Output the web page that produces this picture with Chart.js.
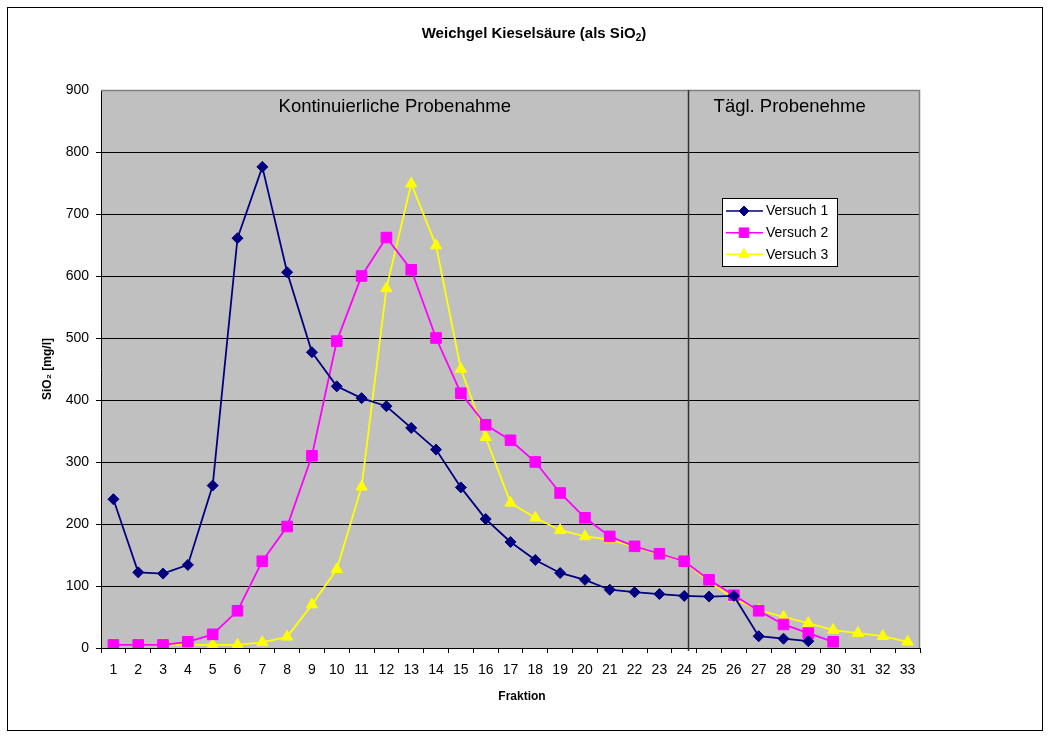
<!DOCTYPE html>
<html><head><meta charset="utf-8">
<script src="https://cdn.jsdelivr.net/npm/chart.js@4.4.0/dist/chart.umd.min.js"></script>
<style>html,body{margin:0;padding:0;background:#fff;}#wrap{width:1050px;height:739px;}</style>
</head><body><div id="wrap"><canvas id="c" width="1050" height="739"></canvas></div>
<script>
const categories = ['1','2','3','4','5','6','7','8','9','10','11','12','13','14','15','16','17','18','19','20','21','22','23','24','25','26','27','28','29','30','31','32','33'];
const versuch1 = [240,122,120,134,262,661,776,606,477,422,403,390,355,320,259,208,171,142,121,110,94,90,87,84,83,84,19,15,11,null,null,null,null];
const versuch2 = [5,5,5,10,22,60,140,196,310,495,600,662,610,500,411,360,335,300,250,210,180,164,152,140,110,85,60,38,24,10,null,null,null];
const versuch3 = [5,5,5,5,5,5,9,18,70,127,260,580,749,649,450,340,234,210,190,180,175,163,151,140,107,80,61,50,40,29,24,19,10];
const seriesNames = ['Versuch 1','Versuch 2','Versuch 3'];
const regionLabels = ['Kontinuierliche Probenahme','Tägl. Probenehme'];
const titleParts = ['Weichgel Kieselsäure (als SiO','2',')'];
const xTitle = 'Fraktion';
const separatorAt = 23.15; // between Fraktion 24 and 25 (category index)
const FONT = '"Liberation Sans", Arial, sans-serif';

const colors = ['#000080','#FF00FF','#FFFF00'];
const styles = ['rectRot','rect','triangle'];
const radii = [5.5,7.5,6.5];

const bgPlugin = {
  id:'bg',
  beforeDraw(chart){
    const {ctx, chartArea:a} = chart;
    ctx.save();
    ctx.fillStyle='#fff'; ctx.fillRect(0,0,chart.width,chart.height);
    ctx.strokeStyle='#000'; ctx.lineWidth=1;
    ctx.strokeRect(7.5,7.5,1035,723);
    ctx.fillStyle='#C0C0C0'; ctx.fillRect(a.left,a.top,a.right-a.left,a.bottom-a.top);
    // title with subscript
    ctx.fillStyle='#000'; ctx.textBaseline='alphabetic'; ctx.textAlign='left';
    const f1='bold 15px '+FONT, f2='bold 10px '+FONT;
    ctx.font=f1; const w0=ctx.measureText(titleParts[0]).width, w2=ctx.measureText(titleParts[2]).width;
    ctx.font=f2; const w1=ctx.measureText(titleParts[1]).width;
    let tx = 534 - (w0+w1+w2)/2; const ty=38;
    ctx.font=f1; ctx.fillText(titleParts[0],tx,ty); tx+=w0;
    ctx.font=f2; ctx.fillText(titleParts[1],tx,ty+3); tx+=w1;
    ctx.font=f1; ctx.fillText(titleParts[2],tx,ty);
    // x axis title
    ctx.font='bold 12px '+FONT; ctx.textAlign='center'; ctx.textBaseline='middle';
    ctx.fillText(xTitle, 522, 697);
    ctx.restore();
  },
  beforeDatasetsDraw(chart){
    const {ctx, chartArea:a, scales:{x}} = chart;
    ctx.save();
    ctx.strokeStyle='#808080'; ctx.lineWidth=1.5;
    ctx.beginPath();
    ctx.moveTo(a.left,a.top+0.5); ctx.lineTo(a.right-0.5,a.top+0.5); ctx.lineTo(a.right-0.5,a.bottom);
    ctx.stroke();
    const sx = Math.round(x.getPixelForValue(separatorAt))+0.5;
    ctx.strokeStyle='#333'; ctx.lineWidth=1.5;
    ctx.beginPath(); ctx.moveTo(sx,a.top); ctx.lineTo(sx,a.bottom+3); ctx.stroke();
    ctx.fillStyle='#000'; ctx.font='18.5px '+FONT; ctx.textAlign='center'; ctx.textBaseline='middle';
    ctx.fillText(regionLabels[0], (a.left+sx)/2, a.top+17);
    ctx.fillText(regionLabels[1], x.getPixelForValue(27.25), a.top+17);
    ctx.restore();
  },
  afterDraw(chart){
    const {ctx} = chart;
    ctx.save();
    const bx=722, by=198, bw=115, bh=68;
    ctx.fillStyle='#fff'; ctx.fillRect(bx,by,bw,bh);
    ctx.strokeStyle='#000'; ctx.lineWidth=1; ctx.strokeRect(bx+0.5,by+0.5,bw,bh);
    ctx.font='14px '+FONT; ctx.textBaseline='middle'; ctx.textAlign='left';
    for(let i=0;i<3;i++){
      const y = by+13+i*21.7;
      ctx.strokeStyle=colors[i]; ctx.lineWidth=1.6;
      ctx.beginPath(); ctx.moveTo(726,y); ctx.lineTo(763,y); ctx.stroke();
      ctx.fillStyle=colors[i]; ctx.strokeStyle=colors[i]; ctx.lineWidth=1;
      Chart.helpers.drawPoint(ctx,{pointStyle:styles[i],radius:radii[i]*0.9,borderWidth:1},744,y);
      ctx.fillStyle='#000';
      ctx.fillText(seriesNames[i],766,y+0.5);
    }
    ctx.restore();
  }
};

const datasets = [versuch1,versuch2,versuch3].map((d,i)=>({
  label: seriesNames[i], data: d,
  borderColor: colors[i], backgroundColor: colors[i],
  pointStyle: styles[i], pointRadius: radii[i], pointHoverRadius: radii[i],
  pointBorderWidth: 1, pointBorderColor: colors[i], pointBackgroundColor: colors[i],
  borderWidth: 1.8, tension: 0, spanGaps: false
}));

new Chart(document.getElementById('c'),{
  type:'line',
  data:{labels:categories, datasets},
  options:{
    responsive:false, animation:false, devicePixelRatio:1,
    layout:{padding:{left:8,right:130,top:90,bottom:31}},
    plugins:{
      legend:{display:false}, tooltip:{enabled:false}, title:{display:false}
    },
    scales:{
      x:{
        offset:true,
        grid:{offset:true,drawOnChartArea:false,drawTicks:true,tickLength:5,color:'#000'},
        border:{color:'#000',width:1},
        ticks:{color:'#000',font:{family:FONT,size:14},padding:9,maxRotation:0,autoSkip:false},
        title:{display:false},
        afterFit(s){s.height=60;}
      },
      y:{
        min:0,max:900,
        ticks:{stepSize:100,color:'#000',font:{family:FONT,size:14},padding:7},
        grid:{color:(c)=>c.tick && c.tick.value===900?'rgba(0,0,0,0)':'#000',tickLength:5,drawTicks:true},
        border:{color:'#000',width:1},
        title:{display:true,text:'SiO₂ [mg/l]',color:'#000',font:{family:FONT,size:12,weight:'bold'},padding:{top:32,bottom:0}},
        afterFit(s){s.width=93;}
      }
    }
  },
  plugins:[bgPlugin]
});
</script></body></html>
